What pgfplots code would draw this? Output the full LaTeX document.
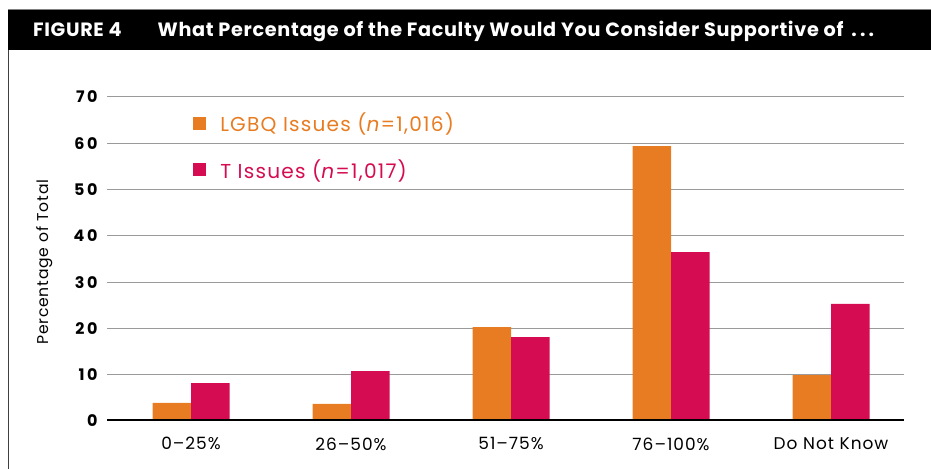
\documentclass[border=0pt]{standalone}
\usepackage{pgfplots}
\pgfplotsset{compat=1.18}
\usepackage{fontspec}
\setmainfont{Poppins}
\definecolor{lgbq}{HTML}{E77C22}
\definecolor{tiss}{HTML}{D50C52}
\definecolor{gridgray}{HTML}{9A9A9A}
\pgfplotstableread{
x lgbq t
0 3.9 8.2
1 3.7 10.8
2 20.3 18.1
3 59.4 36.5
4 9.9 25.3
}\datatable
\begin{document}
\begin{tikzpicture}[x=1bp,y=1bp]
\useasboundingbox (0,0) rectangle (931,469);
\fill[black] (8,419) rectangle (931,459.5);
\draw[gray, line width=1bp] (8,459.5) -- (931,459.5);
\draw[black!75, line width=1bp] (8.5,419) -- (8.5,0);
\node[anchor=west, text=white, inner sep=0pt, font=\bfseries\addfontfeatures{LetterSpace=3.5}\fontsize{19.3}{22}\selectfont] at (33,437.5) {FIGURE 4\hspace{36bp}What Percentage of the Faculty Would You Consider Supportive of \,.\,.\,.};
\begin{axis}[
  at={(107bp,48bp)}, anchor=south west,
  scale only axis, width=797bp, height=324bp,
  xmin=-0.525, xmax=4.456, ymin=0, ymax=70,
  ybar=0pt, bar width=38.5bp,
  axis x line*=bottom, axis y line*=left,
  axis line style={draw=none},
  major tick length=0pt,
  ytick={0,10,...,70},
  ymajorgrids, grid style={gridgray, line width=1bp},
  xtick=data,
  xticklabels={0–25\%, 26–50\%, 51–75\%, 76–100\%, Do Not Know},
  /pgf/number format/assume math mode=true,
  yticklabel style={font=\bfseries\addfontfeatures{LetterSpace=16}\fontsize{16}{18}\selectfont, xshift=-6bp},
  xticklabel style={font=\addfontfeatures{LetterSpace=6}\fontsize{17}{20}\selectfont, yshift=-13bp},
  ylabel={Percentage of Total},
  every axis y label/.style={at={(axis description cs:-0.078,0.49)}, rotate=90, anchor=center,
    font=\addfontfeatures{LetterSpace=5}\fontsize{15.7}{18}\selectfont},
  legend style={draw=none, fill=none, at={(axis description cs:0.108,0.957)}, anchor=north west,
    font=\addfontfeatures{LetterSpace=6}\fontsize{20.2}{23}\selectfont, row sep=22bp, inner sep=0pt, nodes={inner sep=2bp}},
  legend cell align=left,
]
\addplot[fill=lgbq, draw=none, legend image code/.code={\fill[lgbq] (0bp,-6.5bp) rectangle (13bp,6.5bp);}] table[x=x,y=lgbq] {\datatable};
\addlegendentry{\hspace{12bp}\textcolor{lgbq}{LGBQ Issues (\textit{n}=1,016)}}
\addplot[fill=tiss, draw=none, legend image code/.code={\fill[tiss] (0bp,-6.5bp) rectangle (13bp,6.5bp);}] table[x=x,y=t] {\datatable};
\addlegendentry{\hspace{12bp}\textcolor{tiss}{T Issues (\textit{n}=1,017)}}
\draw[black, line width=4.5bp] (axis cs:-0.525,0) -- (axis cs:4.456,0);
\end{axis}
\end{tikzpicture}
\end{document}
